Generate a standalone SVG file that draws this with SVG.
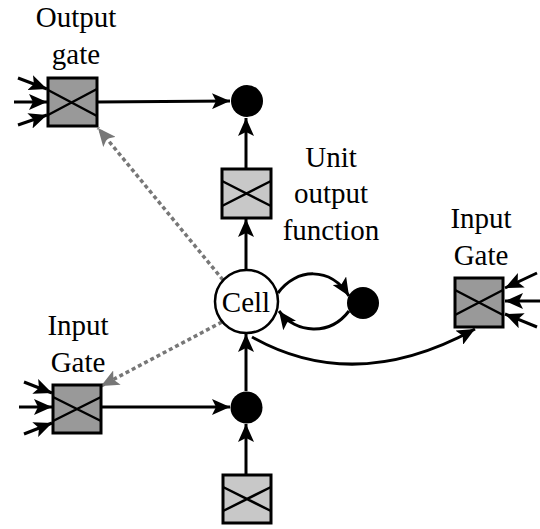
<svg xmlns="http://www.w3.org/2000/svg" width="540" height="529" viewBox="0 0 540 529">
<style>
.lbl{font-family:"Liberation Serif","Times New Roman",serif;font-size:29px;fill:#000;text-anchor:middle}
.gate{fill:#999;stroke:#000;stroke-width:3}
.func{fill:#c8c8c8;stroke:#000;stroke-width:3}
.x{stroke:#000;stroke-width:2.5;fill:none}
.c{stroke:#000;stroke-width:3;fill:none;marker-end:url(#ah)}
.d{stroke:#777;stroke-width:3.5;stroke-dasharray:4 3;fill:none;marker-end:url(#gh)}
</style>
<defs>
<marker id="ah" markerUnits="userSpaceOnUse" markerWidth="20" markerHeight="16" refX="18" refY="8" orient="auto">
<path d="M0,0 L18,8 L0,16 L4,8 Z" fill="#000"/>
</marker>
<marker id="gh" markerUnits="userSpaceOnUse" markerWidth="20" markerHeight="16" refX="18" refY="8" orient="auto">
<path d="M0,0 L18,8 L0,16 L4,8 Z" fill="#777"/>
</marker>
</defs>
<rect width="540" height="529" fill="#fff"/>
<g id="connectors">
<line class="c" x1="97" y1="102" x2="230" y2="101"/>
<line class="c" x1="246" y1="169" x2="246" y2="118"/>
<line class="c" x1="246" y1="270" x2="246" y2="219"/>
<path class="c" d="M278,293 C296,268 330,266 349,296"/>
<path class="c" d="M349,311 C330,336 296,334 279,311"/>
<path class="c" d="M252,337 Q355,395 475,329"/>
<line class="c" x1="101" y1="407" x2="230" y2="407"/>
<line class="c" x1="246" y1="475" x2="246" y2="424"/>
<line class="c" x1="246" y1="391" x2="246" y2="334"/>
<line class="d" x1="223" y1="280" x2="98" y2="128"/>
<line class="d" x1="222" y1="322" x2="101" y2="386"/>
<line class="c" x1="18" y1="78" x2="47" y2="89"/>
<line class="c" x1="14" y1="102" x2="47" y2="102"/>
<line class="c" x1="18" y1="125" x2="47" y2="115"/>
<line class="c" x1="24" y1="382" x2="52" y2="393"/>
<line class="c" x1="19" y1="407" x2="52" y2="407"/>
<line class="c" x1="24" y1="434" x2="52" y2="423"/>
<line class="c" x1="537" y1="273" x2="505" y2="288"/>
<line class="c" x1="540" y1="301" x2="505" y2="301"/>
<line class="c" x1="537" y1="327" x2="505" y2="314"/>
</g>
<g id="output-gate">
<rect class="gate" x="48" y="78" width="49" height="48"/>
<path class="x" d="M48,90 L97,116 M48,115 L97,89"/>
<text class="lbl" x="76" y="27">Output</text>
<text class="lbl" x="76" y="64">gate</text>
</g>
<g id="output-mult">
<circle cx="247" cy="101" r="16" fill="#000"/>
</g>
<g id="unit-output-function">
<rect class="func" x="222" y="169" width="49" height="49"/>
<path class="x" d="M222,181 L271,206 M222,206 L271,181"/>
<text class="lbl" x="331" y="167">Unit</text>
<text class="lbl" x="331" y="203">output</text>
<text class="lbl" x="331" y="240">function</text>
</g>
<g id="cell">
<circle cx="246.5" cy="301.5" r="31.5" fill="#fff" stroke="#000" stroke-width="2.5"/>
<text class="lbl" x="246" y="312">Cell</text>
</g>
<g id="self-loop">
<circle cx="363" cy="303" r="16" fill="#000"/>
</g>
<g id="input-gate-right">
<rect class="gate" x="455" y="278" width="48" height="49"/>
<path class="x" d="M455,290 L503,315 M455,315 L503,290"/>
<text class="lbl" x="481" y="228">Input</text>
<text class="lbl" x="481" y="265">Gate</text>
</g>
<g id="input-gate-left">
<rect class="gate" x="53" y="385" width="48" height="48"/>
<path class="x" d="M53,397 L101,421 M53,421 L101,397"/>
<text class="lbl" x="78" y="335">Input</text>
<text class="lbl" x="78" y="372">Gate</text>
</g>
<g id="input-mult">
<circle cx="246.5" cy="407.5" r="16" fill="#000"/>
</g>
<g id="input-function">
<rect class="func" x="223" y="475" width="48" height="48"/>
<path class="x" d="M223,487 L271,511 M223,511 L271,487"/>
</g>
</svg>
